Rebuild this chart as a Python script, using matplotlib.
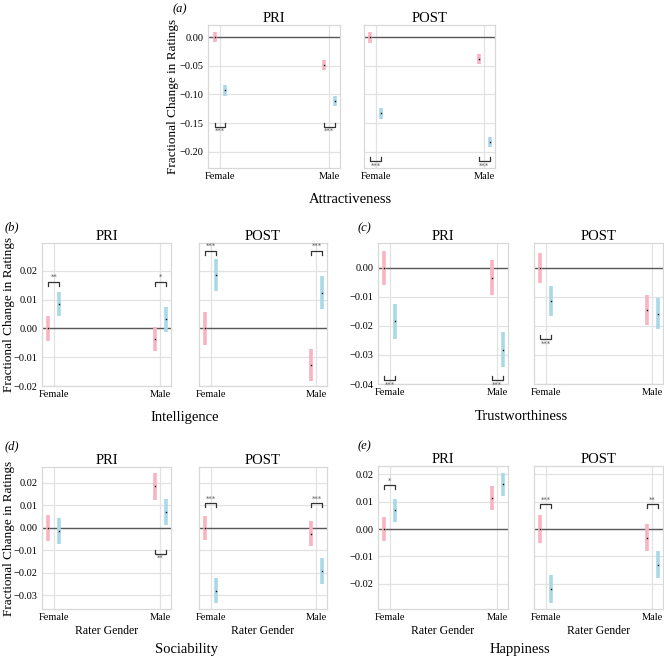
import numpy as np
import matplotlib
matplotlib.use("Agg")
import matplotlib.pyplot as plt
from matplotlib.ticker import MultipleLocator, FuncFormatter

plt.rcParams['font.family'] = ['Liberation Serif', 'DejaVu Serif']
plt.rcParams['mathtext.fontset'] = 'stix'
plt.rcParams['axes.unicode_minus'] = True

W, H = 664, 658

traits = ["Attractiveness", "Intelligence", "Trustworthiness", "Sociability", "Happiness"]
phases = ["PRI", "POST"]
raters = ["Female", "Male"]

# order in every list: PRI-Female, PRI-Male, POST-Female, POST-Male
s1_mean = {
    "Attractiveness": [0.0, -0.048, 0.0, -0.0385],
    "Intelligence": [0.0, -0.0036, 0.0, -0.0126],
    "Trustworthiness": [0.0, -0.0034, 0.0, -0.0146],
    "Sociability": [0.0, 0.0185, 0.0, -0.0025],
    "Happiness": [0.0, 0.0114, 0.0, -0.0032],
}
s1_err = {
    "Attractiveness": [0.0087, 0.009, 0.0092, 0.009],
    "Intelligence": [0.0043, 0.0042, 0.0057, 0.0056],
    "Trustworthiness": [0.006, 0.006, 0.0053, 0.0052],
    "Sociability": [0.0059, 0.0059, 0.0055, 0.0055],
    "Happiness": [0.0043, 0.0043, 0.0051, 0.0049],
}
s2_mean = {
    "Attractiveness": [-0.093, -0.111, -0.133, -0.183],
    "Intelligence": [0.0086, 0.0032, 0.0186, 0.0124],
    "Trustworthiness": [-0.0184, -0.0282, -0.0113, -0.0157],
    "Sociability": [-0.0015, 0.0071, -0.028, -0.0191],
    "Happiness": [0.0069, 0.0163, -0.0219, -0.013],
}
s2_err = {
    "Attractiveness": [0.009, 0.009, 0.009, 0.009],
    "Intelligence": [0.0042, 0.0043, 0.0056, 0.0057],
    "Trustworthiness": [0.006, 0.006, 0.0052, 0.0052],
    "Sociability": [0.0057, 0.0058, 0.0055, 0.0057],
    "Happiness": [0.0042, 0.0042, 0.005, 0.005],
}
# significance: (stars, bracket y, side) ; side 'up' = stars above, 'down' = stars below
sig = {
    "Attractiveness": [("***", -0.156, "down"), ("***", -0.156, "down"),
                       ("***", -0.217, "down"), ("***", -0.217, "down")],
    "Intelligence": [("**", 0.0163, "up"), ("*", 0.0163, "up"),
                     ("***", 0.027, "up"), ("***", 0.027, "up")],
    "Trustworthiness": [("***", -0.0387, "down"), ("***", -0.0387, "down"),
                        ("***", -0.0245, "down"), None],
    "Sociability": [None, ("**", -0.0114, "down"),
                    ("***", 0.0111, "up"), ("***", 0.0111, "up")],
    "Happiness": [("*", 0.016, "up"), None,
                  ("***", 0.009, "up"), ("**", 0.009, "up")],
}

ylims = {
    "Attractiveness": (-0.2285, 0.0215, 0.05),
    "Intelligence": (-0.0200, 0.0297, 0.01),
    "Trustworthiness": (-0.0400, 0.0086, 0.01),
    "Sociability": (-0.0361, 0.0271, 0.01),
    "Happiness": (-0.0292, 0.0230, 0.01),
}

# pixel layout: (pri_x0, pri_x1, post_x0, post_x1, y0, y1)
layout = {
    "Attractiveness": (208, 340, 364, 495, 25, 168),
    "Intelligence": (42, 171, 199, 327, 243, 386),
    "Trustworthiness": (378, 508, 534, 663, 243, 384),
    "Sociability": (42, 171, 199, 327, 467, 609),
    "Happiness": (378, 508, 534, 663, 466, 609),
}
letters = {"Attractiveness": ("(a)", 173, 9), "Intelligence": ("(b)", 5, 227),
           "Trustworthiness": ("(c)", 358, 228), "Sociability": ("(d)", 5, 446),
           "Happiness": ("(e)", 358, 446)}
row_label_pos = {"Attractiveness": (350, 200), "Intelligence": (185, 417),
                 "Trustworthiness": (521, 417), "Sociability": (186, 650),
                 "Happiness": (520, 650)}
ylabel_x = {"Attractiveness": 173, "Intelligence": 9, "Sociability": 9}

PINK = '#f9b3c2'
BLUE = '#a9d9e8'
DODGE = 0.05

fig = plt.figure(figsize=(W / 100, H / 100), dpi=100)


def rect(x0, x1, y0, y1):
    return [x0 / W, 1 - y1 / H, (x1 - x0) / W, (y1 - y0) / H]


def fmt(v, pos):
    return ('%.2f' % v).replace('-', '\u2212')


for trait in traits:
    px0, px1, qx0, qx1, y0, y1 = layout[trait]
    lo, hi, step = ylims[trait]
    for k, phase in enumerate(phases):
        if k == 0:
            ax = fig.add_axes(rect(px0, px1, y0, y1))
        else:
            ax = fig.add_axes(rect(qx0, qx1, y0, y1))
        x = np.arange(len(raters))
        idx = [2 * k, 2 * k + 1]
        m1 = np.array(s1_mean[trait])[idx]
        e1 = np.array(s1_err[trait])[idx]
        m2 = np.array(s2_mean[trait])[idx]
        e2 = np.array(s2_err[trait])[idx]

        ax.axhline(0, color='0.35', lw=1.0, zorder=2)
        ax.vlines(x - DODGE, m1 - e1, m1 + e1, color=PINK, lw=2.6, zorder=3)
        ax.vlines(x + DODGE, m2 - e2, m2 + e2, color=BLUE, lw=2.6, zorder=3)
        ax.plot(x - DODGE, m1, 's', ms=1.0, mew=0, color='black', zorder=4)
        ax.plot(x + DODGE, m2, 's', ms=1.0, mew=0, color='black', zorder=4)

        tick_h = (hi - lo) * 0.028
        for j in range(len(raters)):
            s = sig[trait][idx[j]]
            if s is None:
                continue
            stars, yb, side = s
            d = -tick_h if side == "up" else tick_h
            ax.plot([x[j] - DODGE, x[j] - DODGE, x[j] + DODGE, x[j] + DODGE],
                    [yb + d, yb, yb, yb + d], color='0.2', lw=0.9, zorder=4,
                    clip_on=False)
            ty = yb + (tick_h * 0.4 if side == "up" else -tick_h * 0.4)
            ax.text(x[j], ty, stars, ha='center',
                    va='bottom' if side == "up" else 'top',
                    fontsize=5, color='0.35', family='DejaVu Sans')

        ax.set_xlim(-0.11, 1.10)
        ax.set_ylim(lo, hi)
        ax.yaxis.set_major_locator(MultipleLocator(step))
        ax.yaxis.set_major_formatter(FuncFormatter(fmt))
        ax.set_xticks(x)
        ax.set_xticklabels(raters)
        ax.grid(True, color='#e2e2e2', lw=0.9)
        ax.set_axisbelow(True)
        for sp in ax.spines.values():
            sp.set_color('#d8d8d8')
            sp.set_linewidth(0.9)
        ax.tick_params(length=0, labelsize=7.5, pad=3)
        if k == 1:
            ax.tick_params(labelleft=False)
        ax.set_title(phase, fontsize=10.5, pad=2)
        if trait in ("Sociability", "Happiness"):
            ax.set_xlabel("Rater Gender", fontsize=8.5, labelpad=2)

    lab, lx, ly = letters[trait]
    fig.text(lx / W, 1 - ly / H, lab, fontsize=9, style='italic',
             ha='left', va='center')
    rx, ry = row_label_pos[trait]
    fig.text(rx / W, 1 - ry / H, trait, fontsize=10.5, ha='center', va='center')
    if trait in ylabel_x:
        fig.text(ylabel_x[trait] / W, 1 - ((y0 + y1) / 2) / H,
                 "Fractional Change in Ratings", rotation=90, fontsize=9.5,
                 ha='center', va='center')

fig.savefig("out.png", dpi=100)
